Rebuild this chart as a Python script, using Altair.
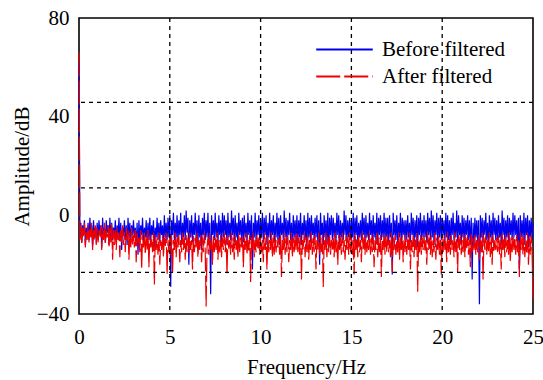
import altair as alt
import pandas as pd

freq = [round(0.05 * i, 2) for i in range(501)]

before = [
    62, -9, -3, -11, -4, -8, -2, -12, -5, -9, -3, -10, -1, -8, -4, -13, -2, -9, -5, -11,
    -3, -10, -2, -8, -4, -13, -1, -9, -5, -11, -2, -7, -4, -12, -1, -9, -3, -10, -5, -8,
    -2, -11, -4, -9, -1, -10, -3, -14, -5, -8, -2, -10, -4, -12, -1, -9, -3, -11, -4, -8,
    -2, -9, -5, -12, -3, -16, -2, -10, -4, -8, -1, -11, -5, -9, -2, -12, -3, -10, -1, -11,
    -4, -8, -2, -13, -5, -9, -1, -10, -3, -11, -2, -8, -4, -12, 0, -9, -3, -10, -1, -9,
    0, -29, -2, -8, 1, -10, -3, -9, 0, -11, -2, -8, 1, -12, -3, -9, 0, -10, 2, -7,
    -1, -20, -2, -9, 0, -11, -3, -8, 1, -10, -2, -12, 0, -9, -3, -14, -1, -8, 1, -10,
    -2, -9, 1, -11, -3, -32, 0, -8, -2, -10, 1, -9, -3, -12, 0, -8, -2, -11, 1, -9,
    0, -8, -2, -12, 1, -9, -3, -10, 2, -8, -1, -11, 0, -9, -3, -12, 1, -8, -2, -10,
    -1, -11, 0, -9, -3, -12, 1, -8, -2, -10, 0, -22, -3, -9, 1, -11, -2, -8, 0, -10,
    -2, -9, 1, -11, -1, -8, 0, -12, -3, -9, 1, -10, -2, -8, 0, -11, -3, -9, 1, -10,
    -1, -12, 0, -8, -3, -10, 2, -9, -1, -11, -2, -8, 1, -10, -3, -12, 0, -9, -2, -10,
    0, -11, -2, -9, 1, -12, -3, -8, 0, -10, -2, -13, 1, -9, -1, -11, 0, -8, -3, -10,
    -1, -9, 0, -11, -2, -20, 1, -8, -3, -12, 0, -9, -2, -11, 1, -14, -1, -8, 0, -10,
    -1, -9, -3, -11, 1, -8, 0, -12, -2, -9, -3, -10, 2, -8, 0, -11, -2, -9, -1, -10,
    -2, -9, 1, -11, -1, -8, 0, -12, -3, -9, -2, -10, 1, -8, -1, -11, 0, -9, -3, -10,
    1, -8, -2, -11, 0, -9, -3, -10, 1, -12, -1, -8, 0, -10, -2, -9, 1, -11, -1, -9,
    -1, -12, 0, -9, -3, -24, 1, -8, -2, -10, 0, -11, -3, -9, 1, -12, -1, -8, -2, -10,
    -2, -10, 0, -9, -3, -11, 1, -8, -1, -12, -2, -9, 0, -13, -1, -8, 1, -10, -2, -9,
    0, -9, -2, -11, 1, -8, -1, -10, 2, -9, 0, -12, -2, -8, 1, -11, -1, -9, 0, -10,
    -1, -8, -2, -11, 1, -9, 0, -10, -2, -12, -1, -8, 1, -10, -3, -9, 2, -11, 0, -8,
    -3, -12, 0, -9, -1, -11, -2, -8, 0, -10, -2, -12, -1, -26, -3, -13, -1, -9, -2, -11,
    -2, -36, 0, -9, -1, -11, -2, -8, 1, -10, -3, -12, 0, -9, -2, -11, 1, -8, -1, -10,
    -2, -10, 0, -9, -3, -12, 2, -8, -1, -11, -2, -9, 0, -12, -1, -8, -2, -10, 1, -9,
    0, -8, -2, -11, -1, -22, 0, -9, -2, -10, 1, -12, -1, -8, 0, -13, -2, -9, -1, -10,
    -3,
]

after = [
    66, -10, -4, -12, -5, -9, -3, -13, -6, -10, -4, -11, -5, -9, -3, -14, -6, -10, -4, -12,
    -5, -11, -6, -9, -4, -14, -5, -10, -3, -12, -6, -9, -4, -13, -5, -11, -3, -18, -6, -12,
    -6, -14, -5, -10, -7, -17, -6, -11, -4, -12, -7, -15, -5, -10, -6, -18, -7, -13, -5, -12,
    -8, -13, -6, -19, -7, -12, -9, -15, -6, -22, -8, -13, -7, -16, -9, -14, -6, -21, -8, -13,
    -9, -15, -7, -28, -8, -14, -9, -16, -7, -20, -10, -14, -8, -17, -9, -13, -7, -24, -10, -15,
    -9, -16, -8, -24, -10, -14, -7, -17, -9, -13, -8, -19, -10, -15, -7, -14, -9, -18, -8, -15,
    -9, -16, -7, -14, -10, -22, -8, -15, -9, -13, -7, -17, -10, -14, -8, -19, -9, -15, -7, -14,
    -37, -13, -9, -16, -7, -14, -10, -20, -8, -15, -9, -14, -7, -18, -10, -15, -8, -17, -9, -14,
    -7, -15, -9, -24, -8, -14, -10, -16, -7, -15, -9, -18, -8, -14, -10, -17, -7, -15, -9, -13,
    -8, -21, -9, -14, -7, -16, -10, -15, -8, -27, -9, -14, -7, -17, -10, -15, -8, -14, -9, -16,
    -8, -15, -10, -19, -7, -14, -9, -22, -8, -15, -10, -14, -7, -17, -9, -16, -8, -15, -10, -13,
    -9, -16, -8, -25, -10, -14, -7, -16, -9, -15, -8, -19, -10, -14, -7, -17, -9, -15, -8, -14,
    -7, -15, -9, -16, -8, -26, -10, -14, -7, -17, -9, -15, -8, -18, -10, -14, -7, -16, -9, -15,
    -8, -22, -10, -14, -7, -16, -9, -15, -8, -29, -10, -14, -7, -17, -9, -15, -8, -16, -10, -14,
    -9, -17, -7, -15, -10, -20, -8, -14, -9, -16, -7, -15, -10, -18, -8, -14, -9, -16, -7, -15,
    -8, -16, -10, -24, -7, -14, -9, -17, -8, -15, -10, -19, -7, -14, -9, -16, -8, -15, -10, -14,
    -7, -16, -9, -15, -8, -21, -10, -14, -7, -17, -9, -15, -8, -25, -10, -14, -7, -16, -9, -15,
    -8, -15, -10, -17, -7, -23, -9, -14, -8, -16, -10, -15, -7, -18, -9, -14, -8, -19, -10, -15,
    -8, -16, -9, -14, -7, -22, -10, -15, -8, -17, -9, -14, -7, -31, -10, -15, -8, -16, -9, -14,
    -8, -15, -10, -20, -7, -14, -9, -16, -8, -17, -10, -15, -7, -18, -9, -14, -8, -16, -10, -24,
    -9, -15, -8, -14, -10, -19, -7, -15, -9, -16, -8, -14, -10, -17, -7, -15, -9, -23, -8, -14,
    -8, -16, -10, -15, -7, -17, -9, -14, -8, -16, -10, -21, -7, -15, -9, -14, -8, -16, -10, -15,
    -8, -18, -10, -15, -7, -26, -9, -14, -8, -16, -10, -15, -7, -17, -9, -20, -8, -15, -10, -14,
    -9, -15, -8, -16, -10, -22, -7, -14, -9, -17, -8, -15, -10, -16, -7, -19, -9, -15, -8, -14,
    -9, -16, -8, -15, -10, -25, -7, -14, -9, -16, -8, -17, -10, -15, -7, -20, -9, -16, -8, -15,
    -35,
]

series_names = ["Before filtered", "After filtered"]
series_colors = ["#0000ee", "#ee0000"]
series_dashes = [[1, 0], [24, 4]]
hgrid = [45.8, 11.1, -23.1]
vgrid = [5, 10, 15, 20]
x_ticks = [0, 5, 10, 15, 20, 25]
y_ticks = [-40, 0, 40, 80]

df_b = pd.DataFrame({"freq": freq, "amp": before, "series": series_names[0]})
df_a = pd.DataFrame({"freq": freq, "amp": after, "series": series_names[1]})
df_h = pd.DataFrame({"y": hgrid})
df_v = pd.DataFrame({"x": vgrid})

FONT = "Liberation Serif"
FS = 21

x_enc = alt.X("freq:Q", scale=alt.Scale(domain=[0, 25], nice=False),
              axis=alt.Axis(values=x_ticks, title="Frequency/Hz", format="d",
                            labelPadding=12, titlePadding=9, grid=False,
                            labelFlush=False, ticks=False, domain=False))
y_enc = alt.Y("amp:Q", scale=alt.Scale(domain=[-40, 80], nice=False),
              axis=alt.Axis(values=y_ticks, title="Amplitude/dB", format="d",
                            labelPadding=10, titlePadding=4, grid=False,
                            labelFlush=False, ticks=False, domain=False))
color_enc = alt.Color("series:N", scale=alt.Scale(domain=series_names, range=series_colors),
                      legend=alt.Legend(orient="none", legendX=250, legendY=16, title=None,
                                        symbolType="M-2,0H2", symbolSize=800,
                                        symbolStrokeWidth=2, labelFont=FONT,
                                        labelFontSize=FS, labelColor="black",
                                        rowPadding=1, labelOffset=22))
dash_enc = alt.StrokeDash("series:N", scale=alt.Scale(domain=series_names, range=series_dashes),
                          legend=None)

blue = alt.Chart(df_b).mark_line(strokeWidth=1.2).encode(
    x=x_enc, y=y_enc, color=color_enc, strokeDash=dash_enc)
red = alt.Chart(df_a).mark_line(strokeWidth=1.2).encode(
    x="freq:Q", y="amp:Q", color=color_enc, strokeDash=dash_enc)

hrules = alt.Chart(df_h).mark_rule(color="black", strokeDash=[4, 4], strokeWidth=1.3).encode(
    y="y:Q")
vrules = alt.Chart(df_v).mark_rule(color="black", strokeDash=[4, 4], strokeWidth=1.3).encode(
    x="x:Q")

chart = alt.layer(blue, red, hrules, vrules).properties(
    width=454, height=296,
    autosize=alt.AutoSizeParams(type="none"),
    padding={"left": 79, "top": 18, "right": 10, "bottom": 66},
    background="white",
).configure_view(stroke="black", strokeWidth=1.6).configure_axis(
    labelFont=FONT, titleFont=FONT, labelFontSize=FS, titleFontSize=FS,
    labelColor="black", titleColor="black", titleFontWeight="normal",
)

chart.save("out.html", embed_options={"renderer": "svg", "actions": False})
